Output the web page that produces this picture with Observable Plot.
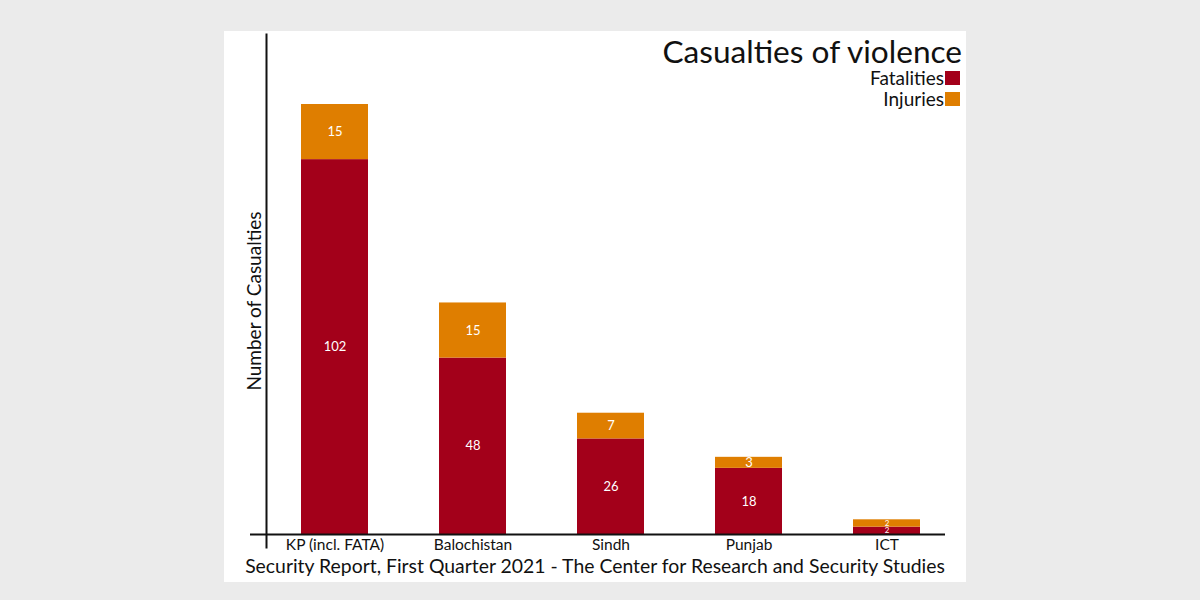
<!DOCTYPE html>
<html>
<head>
<meta charset="utf-8">
<script src="https://cdn.jsdelivr.net/npm/d3@7"></script>
<script src="https://cdn.jsdelivr.net/npm/@observablehq/plot@0.6"></script>
<style>
  html, body { margin: 0; padding: 0; background: #ebebeb; width: 1200px; height: 600px; overflow: hidden; }
  #panel { position: absolute; left: 224px; top: 31px; width: 742px; height: 551px; background: #fff; font-family: Lato, sans-serif; }
  #chart { position: absolute; left: 0; top: 0; }
  #title { position: absolute; right: 4px; top: 7px; font-size: 31.6px; color: #111; white-space: nowrap; line-height: 27px; }
  .leg { position: absolute; right: 6px; font-size: 19px; color: #111; white-space: nowrap; display: flex; align-items: center; line-height: 20px; }
  .leg span.sw { display: inline-block; width: 15px; height: 14px; margin-left: 1px; }
  #caption { position: absolute; left: 0; width: 742px; text-align: center; top: 523px; font-size: 19.4px; color: #111; white-space: nowrap; }
</style>
</head>
<body>
<div id="panel">
  <div id="chart"></div>
  <div id="title">Casualties of violence</div>
  <div class="leg" id="leg1" style="top:37px">Fatalities<span class="sw" style="background:#a3001a"></span></div>
  <div class="leg" id="leg2" style="top:58px">Injuries<span class="sw" style="background:#df7e00"></span></div>
  <div id="caption">Security Report, First Quarter 2021 - The Center for Research and Security Studies</div>
</div>
<script>
const regions = ["KP (incl. FATA)", "Balochistan", "Sindh", "Punjab", "ICT"];
const fatalities = [102, 48, 26, 18, 2];
const injuries = [15, 15, 7, 3, 2];
const seriesNames = ["Fatalities", "Injuries"];
const seriesColors = ["#a3001a", "#df7e00"];

const data = [];
regions.forEach((r, i) => {
  data.push({region: r, type: seriesNames[0], value: fatalities[i]});
  data.push({region: r, type: seriesNames[1], value: injuries[i]});
});
const maxTotal = d3.max(regions, (r, i) => fatalities[i] + injuries[i]);

const chart = Plot.plot({
  width: 742,
  height: 551,
  marginLeft: 42,
  marginRight: 21,
  marginTop: 3,
  marginBottom: 35,
  style: {fontFamily: "Lato, sans-serif", background: "transparent", color: "#111"},
  x: {domain: regions, range: [76, 697], paddingInner: 0.516, paddingOuter: 0, label: null},
  y: {domain: [0, maxTotal], range: [503, 73], axis: null},
  color: {domain: seriesNames, range: seriesColors},
  marks: [
    Plot.barY(data, {x: "region", y: "value", fill: "type", order: seriesNames}),
    Plot.text(data.filter(d => d.value >= 3), Plot.stackY({x: "region", y: "value", z: "type", order: seriesNames, text: "value", fill: "white", fontSize: 13})),
    Plot.text(data.filter(d => d.value < 3), Plot.stackY({x: "region", y: "value", z: "type", order: seriesNames, text: "value", fill: "white", fontSize: 8})),
    Plot.ruleY([0], {stroke: "#111", strokeWidth: 2, insetLeft: -16}),
    Plot.frame({anchor: "left", stroke: "#111", strokeWidth: 2}),
    Plot.axisX({tickSize: 0, tickPadding: 0, dy: -9, fontSize: 15.5, label: null}),
    Plot.text(["Number of Casualties"], {frameAnchor: "left", textAnchor: "middle", rotate: -90, dx: -12, dy: 10, fontSize: 19, fill: "#111"})
  ]
});
document.getElementById("chart").appendChild(chart);
</script>
</body>
</html>
